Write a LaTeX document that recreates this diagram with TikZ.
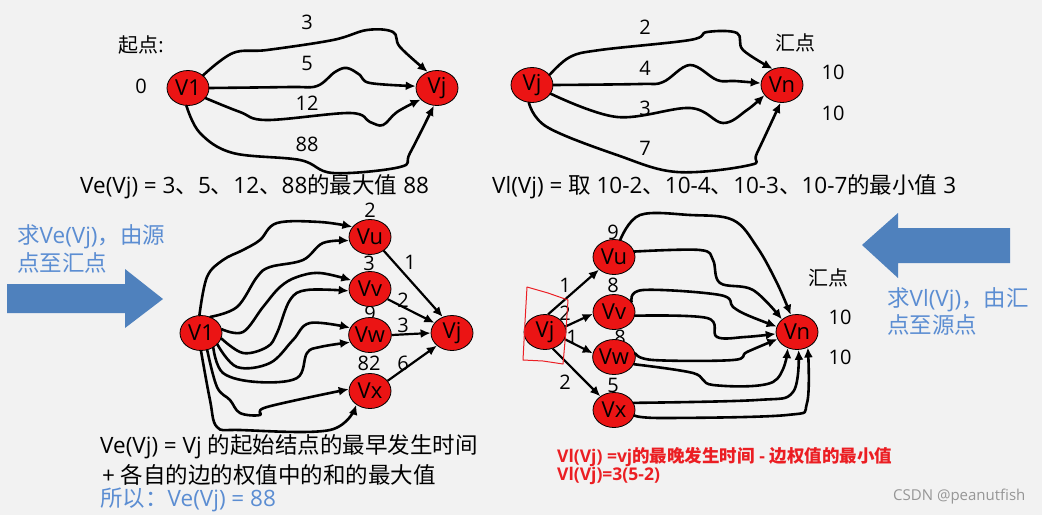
\documentclass[tikz,border=0pt]{standalone}
\usepackage{fontspec}
\newfontfamily\cjk{Noto Sans CJK SC}
\newfontfamily\lat{Open Sans}
\newcommand\zh[1]{{\cjk #1}}
\usetikzlibrary{shapes.geometric,arrows.meta}
\definecolor{bg}{RGB}{242,242,242}
\definecolor{nodered}{RGB}{235,20,20}
\definecolor{arrowblue}{RGB}{79,129,189}
\definecolor{textblue}{RGB}{91,141,210}
\definecolor{redtext}{RGB}{235,30,35}
\definecolor{wmgray}{RGB}{150,150,150}
\begin{document}
\begin{tikzpicture}[x=1pt,y=-1pt,
  vtx/.style={ellipse,draw=black,line width=0.8pt,fill=nodered,minimum width=42pt,minimum height=35pt,inner sep=0pt,font=\lat\fontsize{22}{22}\selectfont},
  lbl/.style={font=\lat\fontsize{20}{20}\selectfont,inner sep=0pt},
  txt/.style={font=\lat\fontsize{22.5}{22.5}\selectfont,anchor=west,inner sep=0pt},
  bluetxt/.style={txt,text=textblue},
  redtxt/.style={font=\lat\bfseries\fontsize{17.5}{17.5}\selectfont,anchor=west,inner sep=0pt,text=redtext},
  wig/.style={line width=2.6pt,-{Latex[length=10pt,width=9pt]},line cap=round,line join=round},
  strarr/.style={line width=2.2pt,-{Latex[length=10pt,width=9pt]}},
  bigarrow/.style={fill=arrowblue,draw=none},
]
\fill[bg] (0,0) rectangle (1042,515);

% ---------------- top left ----------------
\node[lbl] (tlstart) at (141,45) {\zh{起点}:};
\node[lbl] (tlzero) at (141,86) {0};
\node[lbl] (tl3) at (307,22) {3};
\node[lbl] (tl5) at (307,63) {5};
\node[lbl] (tl12) at (307,103) {12};
\node[lbl] (tl88) at (307,144) {88};
\node[vtx] (A1) at (188,88) {V1};
\node[vtx] (Aj) at (437,88) {Vj};
\draw[wig] plot[smooth,tension=0.6] coordinates {(A1.40) (233,53) (267,50) (333,40) (367,30) (393,32) (400,47) (Aj.120)};
\draw[wig] plot[smooth,tension=0.6] coordinates {(A1.0) (290,87) (317,86) (335,72) (347,68) (360,75) (370,83) (Aj.175)};
\draw[wig] plot[smooth,tension=0.6] coordinates {(A1.-30) (240,112) (267,120) (350,113) (370,122) (383,125) (397,112) (Aj.-145)};
\draw[wig] plot[smooth,tension=0.6] coordinates {(A1.-95) (200,133) (233,153) (300,160) (333,173) (400,167) (410,153) (Aj.-100)};
\node[txt] (tltext) at (80,187) {Ve(Vj) = 3\zh{、}5\zh{、}12\zh{、}88\zh{的最大值} 88};

% ---------------- top right ----------------
\node[lbl] (trsink) at (795,43) {\zh{汇点}};
\node[lbl] (tr10a) at (833,72) {10};
\node[lbl] (tr10b) at (833,113) {10};
\node[lbl] (tr2) at (645,27) {2};
\node[lbl] (tr4) at (645,68) {4};
\node[lbl] (tr3) at (645,108) {3};
\node[lbl] (tr7) at (645,148) {7};
\node[vtx] (Bj) at (532,85) {Vj};
\node[vtx] (Bn) at (782,85) {Vn};
\draw[wig] plot[smooth,tension=0.6] coordinates {(Bj.30) (570,57) (600,50) (690,40) (707,32) (737,33) (743,50) (Bn.120)};
\draw[wig] plot[smooth,tension=0.6] coordinates {(Bj.0) (640,84) (663,82) (690,65) (717,80) (735,81) (Bn.175)};
\draw[wig] plot[smooth,tension=0.6] coordinates {(Bj.-25) (617,117) (690,108) (723,123) (747,110) (Bn.-150)};
\draw[wig] plot[smooth,tension=0.6] coordinates {(Bj.-100) (547,127) (617,155) (677,172) (750,165) (757,153) (Bn.-95)};
\node[txt] (trtext) at (492,187) {Vl(Vj) = \zh{取} 10-2\zh{、}10-4\zh{、}10-3\zh{、}10-7\zh{的最小值} 3};

% ---------------- bottom left ----------------
\fill[bigarrow] (7,284) -- (125,284) -- (125,269) -- (163,299) -- (125,328) -- (125,313) -- (7,313) -- cycle;
\node[bluetxt] (bltext1) at (17,237) {\zh{求}Ve(Vj)\zh{，由源}};
\node[bluetxt] (bltext2) at (17,263) {\zh{点至汇点}};
\node[lbl] (bl2) at (370,210) {2};
\node[lbl] (bl3) at (369,263) {3};
\node[lbl] (bl9) at (370,313) {9};
\node[lbl] (bl82) at (369,363) {82};
\node[lbl] (bl1b) at (410,262) {1};
\node[lbl] (bl2b) at (403,300) {2};
\node[lbl] (bl3b) at (403,325) {3};
\node[lbl] (bl6b) at (403,363) {6};
\node[vtx] (C1) at (201,333) {V1};
\node[vtx] (Cu) at (370,237) {Vu};
\node[vtx] (Cv) at (370,289) {Vv};
\node[vtx] (Cw) at (370,335) {Vw};
\node[vtx] (Cx) at (370,391) {Vx};
\node[vtx] (Cj) at (452,333) {Vj};
\draw[wig] plot[smooth,tension=0.6] coordinates {(C1.95) (207,277) (223,260) (243,250) (260,240) (277,223) (320,222) (Cu.150)};
\draw[wig] plot[smooth,tension=0.6] coordinates {(C1.60) (237,307) (257,277) (270,267) (303,260) (323,243) (Cu.190)};
\draw[wig] plot[smooth,tension=0.6] coordinates {(C1.10) (243,332) (263,307) (280,287) (297,277) (320,273) (Cv.155)};
\draw[wig] plot[smooth,tension=0.6] coordinates {(C1.-15) (243,353) (267,347) (277,333) (290,300) (307,290) (Cv.185)};
\draw[wig] plot[smooth,tension=0.6] coordinates {(C1.-35) (237,367) (270,363) (293,340) (310,323) (Cw.160)};
\draw[wig] plot[smooth,tension=0.6] coordinates {(C1.-50) (223,373) (257,382) (297,378) (307,353) (320,347) (Cw.200)};
\draw[wig] plot[smooth,tension=0.6] coordinates {(C1.-70) (217,387) (230,400) (240,413) (260,415) (267,407) (Cx.175)};
\draw[wig] plot[smooth,tension=0.6] coordinates {(C1.-90) (210,400) (217,427) (240,430) (330,430) (Cx.-135)};
\draw[strarr] (Cu.-45) -- (Cj.120);
\draw[strarr] (Cv.-30) -- (Cj.150);
\draw[strarr] (Cw.east) -- (Cj.west);
\draw[strarr] (Cx.30) -- (Cj.-140);
\node[txt] (bltext3) at (100,447) {Ve(Vj) = Vj \zh{的起始结点的最早发生时间}};
\node[txt] (bltext4) at (102,475) {+ \zh{各自的边的权值中的和的最大值}};
\node[bluetxt] (bltext5) at (100,500) {\zh{所以：}Ve(Vj) = 88};

% ---------------- bottom right ----------------
\fill[bigarrow] (1010,228) -- (898,228) -- (898,213) -- (862,245) -- (898,278) -- (898,263) -- (1010,263) -- cycle;
\node[bluetxt] (brtext1) at (887,300) {\zh{求}Vl(Vj)\zh{，由汇}};
\node[bluetxt] (brtext2) at (887,325) {\zh{点至源点}};
\node[lbl] (brsink) at (828,278) {\zh{汇点}};
\node[lbl] (br10a) at (840,317) {10};
\node[lbl] (br10b) at (840,357) {10};
\node[lbl] (br9) at (613,232) {9};
\node[lbl] (br8a) at (613,285) {8};
\node[lbl] (br8b) at (620,337) {8};
\node[lbl] (br5) at (613,385) {5};
\node[lbl] (br1a) at (565,285) {1};
\node[lbl] (br2a) at (565,313) {2};
\node[lbl] (br1b) at (572,337) {1};
\node[lbl] (br2b) at (565,382) {2};
\node[vtx] (Dj) at (545,332) {Vj};
\node[vtx] (Du) at (614,257) {Vu};
\node[vtx] (Dv) at (614,312) {Vv};
\node[vtx] (Dw) at (614,357) {Vw};
\node[vtx] (Dx) at (614,410) {Vx};
\node[vtx] (Dn) at (797,332) {Vn};
\draw[strarr] (Dj.80) -- (Du.-140);
\draw[strarr] (Dj.15) -- (Dv.185);
\draw[strarr] (Dj.-20) -- (Dw.170);
\draw[strarr] (Dj.-65) -- (Dx.135);
\draw[wig] plot[smooth,tension=0.6] coordinates {(Du.70) (640,215) (690,215) (733,220) (757,247) (777,283) (Dn.110)};
\draw[wig] plot[smooth,tension=0.6] coordinates {(Du.15) (700,250) (713,260) (720,283) (753,290) (Dn.140)};
\draw[wig] plot[smooth,tension=0.6] coordinates {(Dv.30) (643,290) (720,295) (733,307) (747,315) (Dn.165)};
\draw[wig] plot[smooth,tension=0.6] coordinates {(Dv.-10) (707,318) (717,337) (745,337) (Dn.185)};
\draw[wig] plot[smooth,tension=0.6] coordinates {(Dw.10) (653,360) (733,360) (747,352) (Dn.-160)};
\draw[wig] plot[smooth,tension=0.6] coordinates {(Dw.-20) (693,373) (713,385) (773,382) (Dn.-120)};
\draw[wig] plot[smooth,tension=0.6] coordinates {(Dx.20) (757,400) (793,392) (Dn.-85)};
\draw[wig] plot[smooth,tension=0.6] coordinates {(Dx.-15) (663,418) (787,415) (807,403) (Dn.-55)};
\draw[redtext,line width=1pt,line join=round] (527,287) -- (548,293) -- (568,300) -- (566,330) -- (563,364) -- (543,361) -- (523,360) -- (525,322) -- cycle;
\node[redtxt] (brtext3) at (557,457) {Vl(Vj) =vj\zh{的最晚发生时间} - \zh{边权值的最小值}};
\node[redtxt] (brtext4) at (557,476) {Vl(Vj)=3(5-2)};
\node[font=\lat\fontsize{15}{15}\selectfont,text=wmgray,anchor=west,inner sep=0pt] (wm) at (893,497) {CSDN @peanutfish};
\end{tikzpicture}
\end{document}
